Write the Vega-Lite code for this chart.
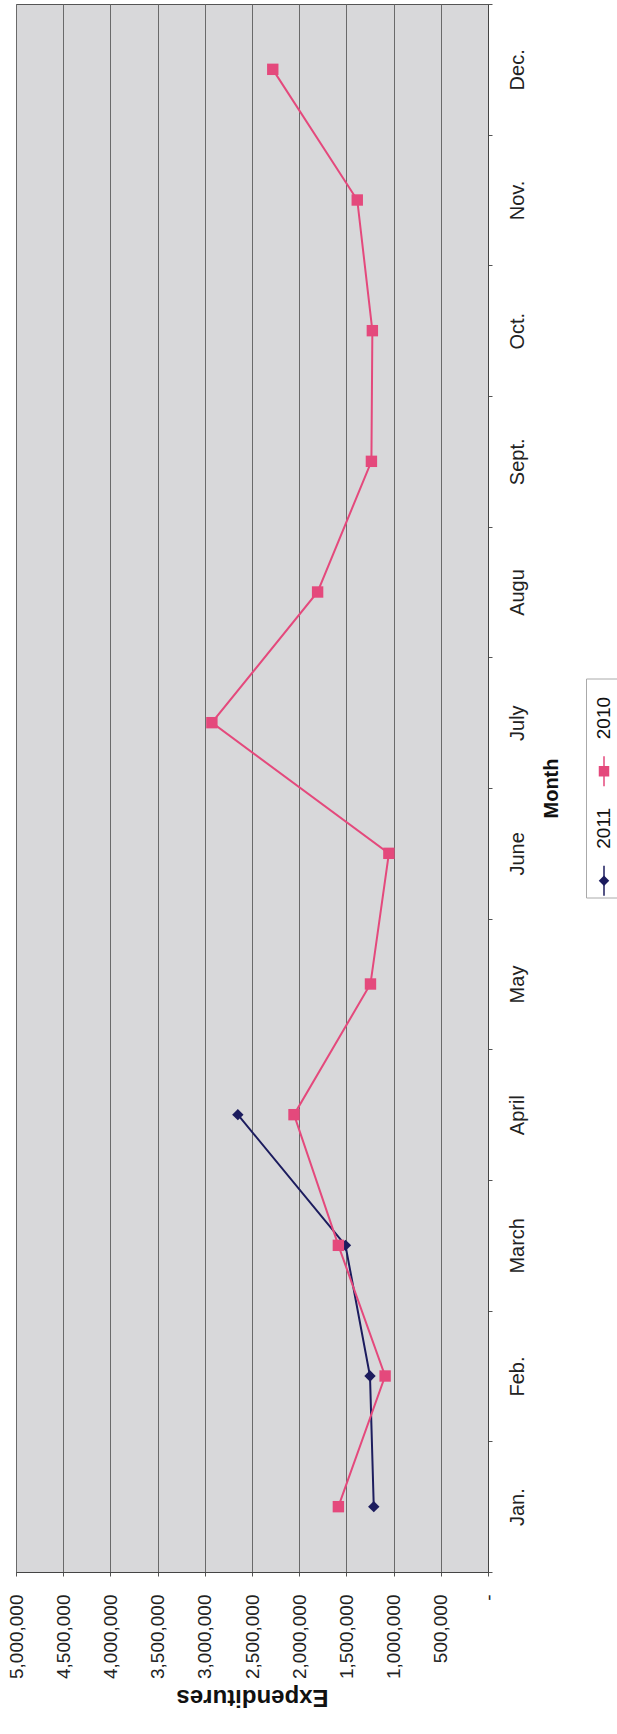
{
  "$schema": "https://vega.github.io/schema/vega-lite/v6.json",
  "background": "white",
  "padding": {"left": 6, "top": 3, "right": 0, "bottom": 0},
  "config": {"font": "Liberation Sans", "view": {"strokeWidth": 1}},
  "datasets": {
    "expend": [
      {"month": "Jan.", "m": 1, "series": "2011", "value": 1210000},
      {"month": "Feb.", "m": 2, "series": "2011", "value": 1250000},
      {"month": "March", "m": 3, "series": "2011", "value": 1510000},
      {"month": "April", "m": 4, "series": "2011", "value": 2650000},
      {"month": "Jan.", "m": 1, "series": "2010", "value": 1585000},
      {"month": "Feb.", "m": 2, "series": "2010", "value": 1090000},
      {"month": "March", "m": 3, "series": "2010", "value": 1585000},
      {"month": "April", "m": 4, "series": "2010", "value": 2055000},
      {"month": "May", "m": 5, "series": "2010", "value": 1245000},
      {"month": "June", "m": 6, "series": "2010", "value": 1050000},
      {"month": "July", "m": 7, "series": "2010", "value": 2925000},
      {"month": "Augu", "m": 8, "series": "2010", "value": 1805000},
      {"month": "Sept.", "m": 9, "series": "2010", "value": 1235000},
      {"month": "Oct.", "m": 10, "series": "2010", "value": 1225000},
      {"month": "Nov.", "m": 11, "series": "2010", "value": 1385000},
      {"month": "Dec.", "m": 12, "series": "2010", "value": 2280000}
    ],
    "legend": [{"series": "2010"}, {"series": "2011"}]
  },
  "hconcat": [
    {
      "width": 472,
      "height": 1568,
      "data": {"name": "expend"},
      "view": {"fill": "#d8d8da", "stroke": "#555555"},
      "encoding": {
        "x": {
          "field": "value",
          "type": "quantitative",
          "scale": {"domain": [0, 5000000], "reverse": true, "nice": false, "zero": true},
          "title": "Expenditures",
          "axis": {
            "orient": "bottom",
            "values": [0, 500000, 1000000, 1500000, 2000000, 2500000, 3000000, 3500000, 4000000, 4500000, 5000000],
            "grid": true,
            "gridColor": "#6a6a6a",
            "gridWidth": 1,
            "domainColor": "#444444",
            "tickColor": "#555555",
            "tickSize": 4,
            "labelAngle": 270,
            "labelAlign": "right",
            "labelBaseline": "middle",
            "labelPadding": 18,
            "labelFontSize": 19,
            "labelColor": "#222222",
            "labelExpr": "datum.value == 0 ? '-\u00a0\u00a0\u00a0\u00a0\u00a0' : format(datum.value, ',')",
            "titleAngle": 180,
            "titleBaseline": "bottom",
            "titleFontSize": 24,
            "titleFontWeight": "bold",
            "titleColor": "#111111",
            "titlePadding": 6
          }
        },
        "y": {
          "field": "month",
          "type": "ordinal",
          "sort": ["Dec.", "Nov.", "Oct.", "Sept.", "Augu", "July", "June", "May", "April", "March", "Feb.", "Jan."],
          "scale": {"type": "band", "paddingInner": 0, "paddingOuter": 0},
          "title": "Month",
          "axis": {
            "orient": "right",
            "tickBand": "extent",
            "grid": false,
            "domainColor": "#444444",
            "tickColor": "#555555",
            "tickSize": 4,
            "labelAngle": 270,
            "labelAlign": "center",
            "labelBaseline": "top",
            "labelPadding": 15,
            "labelFontSize": 20,
            "labelColor": "#222222",
            "titleAngle": 270,
            "titleBaseline": "top",
            "titleFontSize": 20,
            "titleFontWeight": "bold",
            "titleColor": "#111111",
            "titlePadding": 14
          }
        },
        "color": {
          "field": "series",
          "type": "nominal",
          "scale": {"domain": ["2011", "2010"], "range": ["#1c1c5e", "#e4497c"]},
          "legend": null
        },
        "order": {"field": "m", "type": "quantitative"}
      },
      "layer": [
        {"mark": {"type": "line", "strokeWidth": 2}},
        {
          "mark": {"type": "point", "filled": true, "opacity": 1, "size": 130},
          "encoding": {
            "shape": {
              "field": "series",
              "type": "nominal",
              "scale": {"domain": ["2011", "2010"], "range": ["diamond", "square"]},
              "legend": null
            }
          }
        }
      ]
    },
    {
      "width": 36,
      "height": 219,
      "data": {"name": "legend"},
      "view": {"fill": "white", "stroke": "#aaaaaa"},
      "encoding": {
        "y": {
          "field": "series",
          "type": "nominal",
          "sort": ["2010", "2011"],
          "scale": {"type": "point", "padding": 0.5},
          "axis": null
        },
        "color": {
          "field": "series",
          "type": "nominal",
          "scale": {"domain": ["2011", "2010"], "range": ["#1c1c5e", "#e4497c"]},
          "legend": null
        }
      },
      "layer": [
        {"mark": {"type": "point", "shape": "M0,-1V1", "filled": false, "opacity": 1, "size": 900, "strokeWidth": 1.5, "yOffset": 38}},
        {
          "mark": {"type": "point", "filled": true, "opacity": 1, "size": 110, "yOffset": 38},
          "encoding": {
            "shape": {
              "field": "series",
              "type": "nominal",
              "scale": {"domain": ["2011", "2010"], "range": ["diamond", "square"]},
              "legend": null
            }
          }
        },
        {
          "mark": {"type": "text", "angle": 270, "align": "left", "baseline": "middle", "fontSize": 19, "color": "#111111", "yOffset": 6},
          "encoding": {"text": {"field": "series"}, "color": {"value": "#111111"}}
        }
      ]
    }
  ],
  "spacing": 98,
  "bounds": "flush",
  "center": true,
  "resolve": {"scale": {"y": "independent"}}
}
